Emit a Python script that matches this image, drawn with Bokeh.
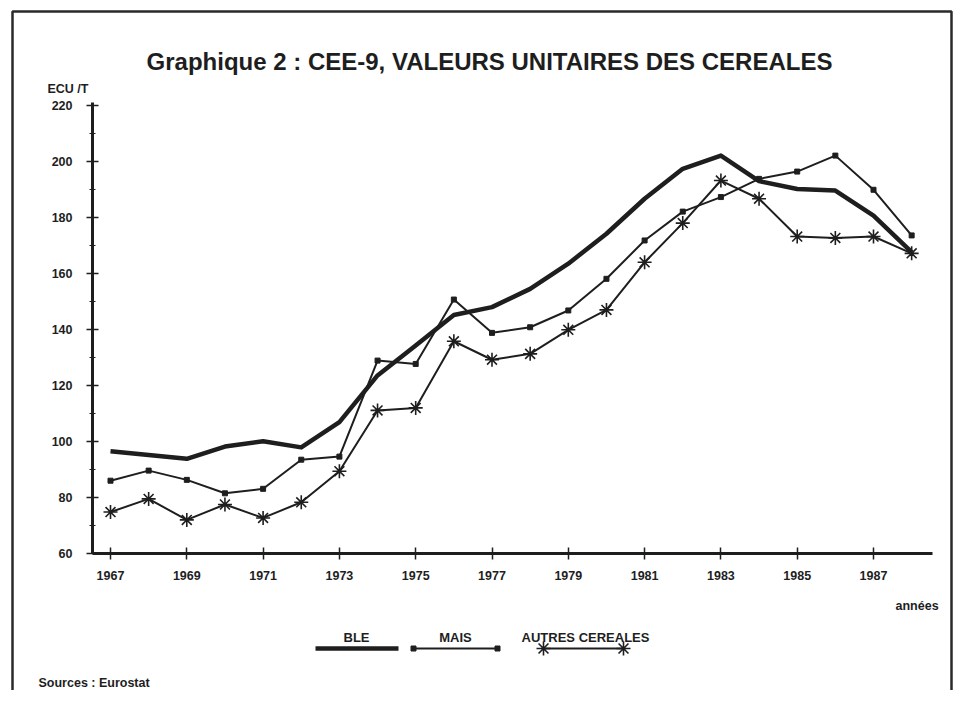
from bokeh.plotting import figure
from bokeh.models import Range1d, LinearAxis, FixedTicker
from bokeh.core.properties import value
from bokeh.embed import file_html
from bokeh.resources import INLINE

# ---------------- data ----------------
years = [1967, 1968, 1969, 1970, 1971, 1972, 1973, 1974, 1975, 1976, 1977,
         1978, 1979, 1980, 1981, 1982, 1983, 1984, 1985, 1986, 1987, 1988]
ble = [96.5, 95.2, 93.8, 98.2, 100.1, 97.9, 106.9, 123.6, 134.3, 145.2, 148.0,
       154.5, 163.5, 174.2, 186.7, 197.4, 202.1, 193.0, 190.2, 189.6, 180.7, 167.6]
mais = [86.0, 89.6, 86.3, 81.5, 83.1, 93.5, 94.6, 128.9, 127.7, 150.7, 138.8,
        140.8, 146.8, 158.1, 171.8, 182.1, 187.3, 193.8, 196.4, 202.1, 189.9, 173.6]
autres = [74.8, 79.5, 72.0, 77.5, 72.7, 78.3, 89.4, 111.1, 112.0, 135.8, 129.2,
          131.3, 139.9, 147.0, 164.0, 178.0, 193.2, 186.7, 173.2, 172.7, 173.2, 167.2]
x_ticks = [1967, 1969, 1971, 1973, 1975, 1977, 1979, 1981, 1983, 1985, 1987]
y_ticks = [60, 80, 100, 120, 140, 160, 180, 200, 220]
y_minor = [70, 90, 110, 130, 150, 170, 190, 210]
series_names = ["BLE", "MAIS", "AUTRES CEREALES"]
title_text = "Graphique 2 : CEE-9, VALEURS UNITAIRES DES CEREALES"
unit_text = "ECU /T"
xlabel_text = "années"
source_text = "Sources : Eurostat"

# ---------------- layout ----------------
W, H = 953, 690
PPX = 38.15   # pixels per year
PPY = 2.8     # pixels per ECU
X_1967_PX = 110
Y_60_PX = 553
x0 = 1967 - X_1967_PX / PPX
x1 = 1967 + (W - X_1967_PX) / PPX
y0 = 60 - (H - Y_60_PX) / PPY
y1 = 60 + Y_60_PX / PPY

def fx(px):
    return x0 + px / PPX

def fy(py):
    return y1 - py / PPY

INK = "#1e1e1e"
FONT = value("Liberation Sans")

p = figure(width=W, height=H, output_backend="svg", toolbar_location=None,
           x_range=Range1d(x0, x1), y_range=Range1d(y0, y1),
           x_axis_location=None, y_axis_location=None,
           min_border=0, background_fill_color="white", border_fill_color="white")
p.outline_line_color = None
p.xgrid.visible = False
p.ygrid.visible = False

# axes
xaxis = LinearAxis(fixed_location=60, bounds=(fx(92), fx(932)),
                   ticker=FixedTicker(ticks=x_ticks))
xaxis.axis_line_width = 3
xaxis.axis_line_color = INK
xaxis.major_tick_in = 6
xaxis.major_tick_out = 6
xaxis.major_tick_line_width = 1.5
xaxis.major_tick_line_color = INK
xaxis.minor_tick_line_color = None
xaxis.major_label_standoff = 11
xaxis.major_label_text_font = "Liberation Sans"
xaxis.major_label_text_font_style = "bold"
xaxis.major_label_text_font_size = "12.5px"
xaxis.major_label_text_color = INK
p.add_layout(xaxis, "below")

yaxis = LinearAxis(fixed_location=fx(92), bounds=(60, 221),
                   ticker=FixedTicker(ticks=y_ticks, minor_ticks=y_minor))
yaxis.axis_line_width = 3
yaxis.axis_line_color = INK
yaxis.major_tick_in = 6
yaxis.major_tick_out = 6
yaxis.major_tick_line_width = 1.5
yaxis.major_tick_line_color = INK
yaxis.minor_tick_in = 3
yaxis.minor_tick_out = 3
yaxis.minor_tick_line_width = 1.2
yaxis.minor_tick_line_color = INK
yaxis.major_label_standoff = 14
yaxis.major_label_text_font = "Liberation Sans"
yaxis.major_label_text_font_style = "bold"
yaxis.major_label_text_font_size = "12.5px"
yaxis.major_label_text_color = INK
p.add_layout(yaxis, "left")

# series
p.line(years, ble, line_width=4.5, line_color=INK, line_join="round")
p.line(years, mais, line_width=2, line_color=INK)
p.scatter(years, mais, marker="square", size=5, fill_color=INK, line_color=INK)
p.line(years, autres, line_width=2, line_color=INK)
p.scatter(years, autres, marker="asterisk", size=14, line_color=INK, line_width=1.6)

# frame around the whole graphic (left, top, right edges)
p.line([fx(12), fx(12), fx(951), fx(951)],
       [fy(H + 10), fy(11), fy(11), fy(H + 10)],
       line_color="#2a2a2a", line_width=2.5)

def txt(px, py, s, size, align="left"):
    p.text(x=[fx(px)], y=[fy(py)], text=[s], text_align=align,
           text_baseline="alphabetic", text_font=FONT, text_font_style="bold",
           text_font_size=size, text_color=INK)

txt(489, 61, title_text, "24px", "center")
txt(47, 88, unit_text, "12.5px")
txt(895, 605, xlabel_text, "12.5px")
txt(38, 682, source_text, "12.5px")

# legend
leg_y = fy(648)
leg_text_y = 637
# BLE
txt(356, leg_text_y, series_names[0], "13px", "center")
p.line([fx(315), fx(398)], [leg_y, leg_y], line_width=4.5, line_color=INK)
# MAIS
txt(455, leg_text_y, series_names[1], "13px", "center")
p.line([fx(413), fx(497)], [leg_y, leg_y], line_width=2, line_color=INK)
p.scatter([fx(413), fx(497)], [leg_y, leg_y], marker="square", size=5,
          fill_color=INK, line_color=INK)
# AUTRES CEREALES
txt(585, leg_text_y, series_names[2], "13px", "center")
p.line([fx(543), fx(623)], [leg_y, leg_y], line_width=2, line_color=INK)
p.scatter([fx(543), fx(623)], [leg_y, leg_y], marker="asterisk", size=14,
          line_color=INK, line_width=1.6)

open("out.html", "w").write(file_html(p, INLINE))
